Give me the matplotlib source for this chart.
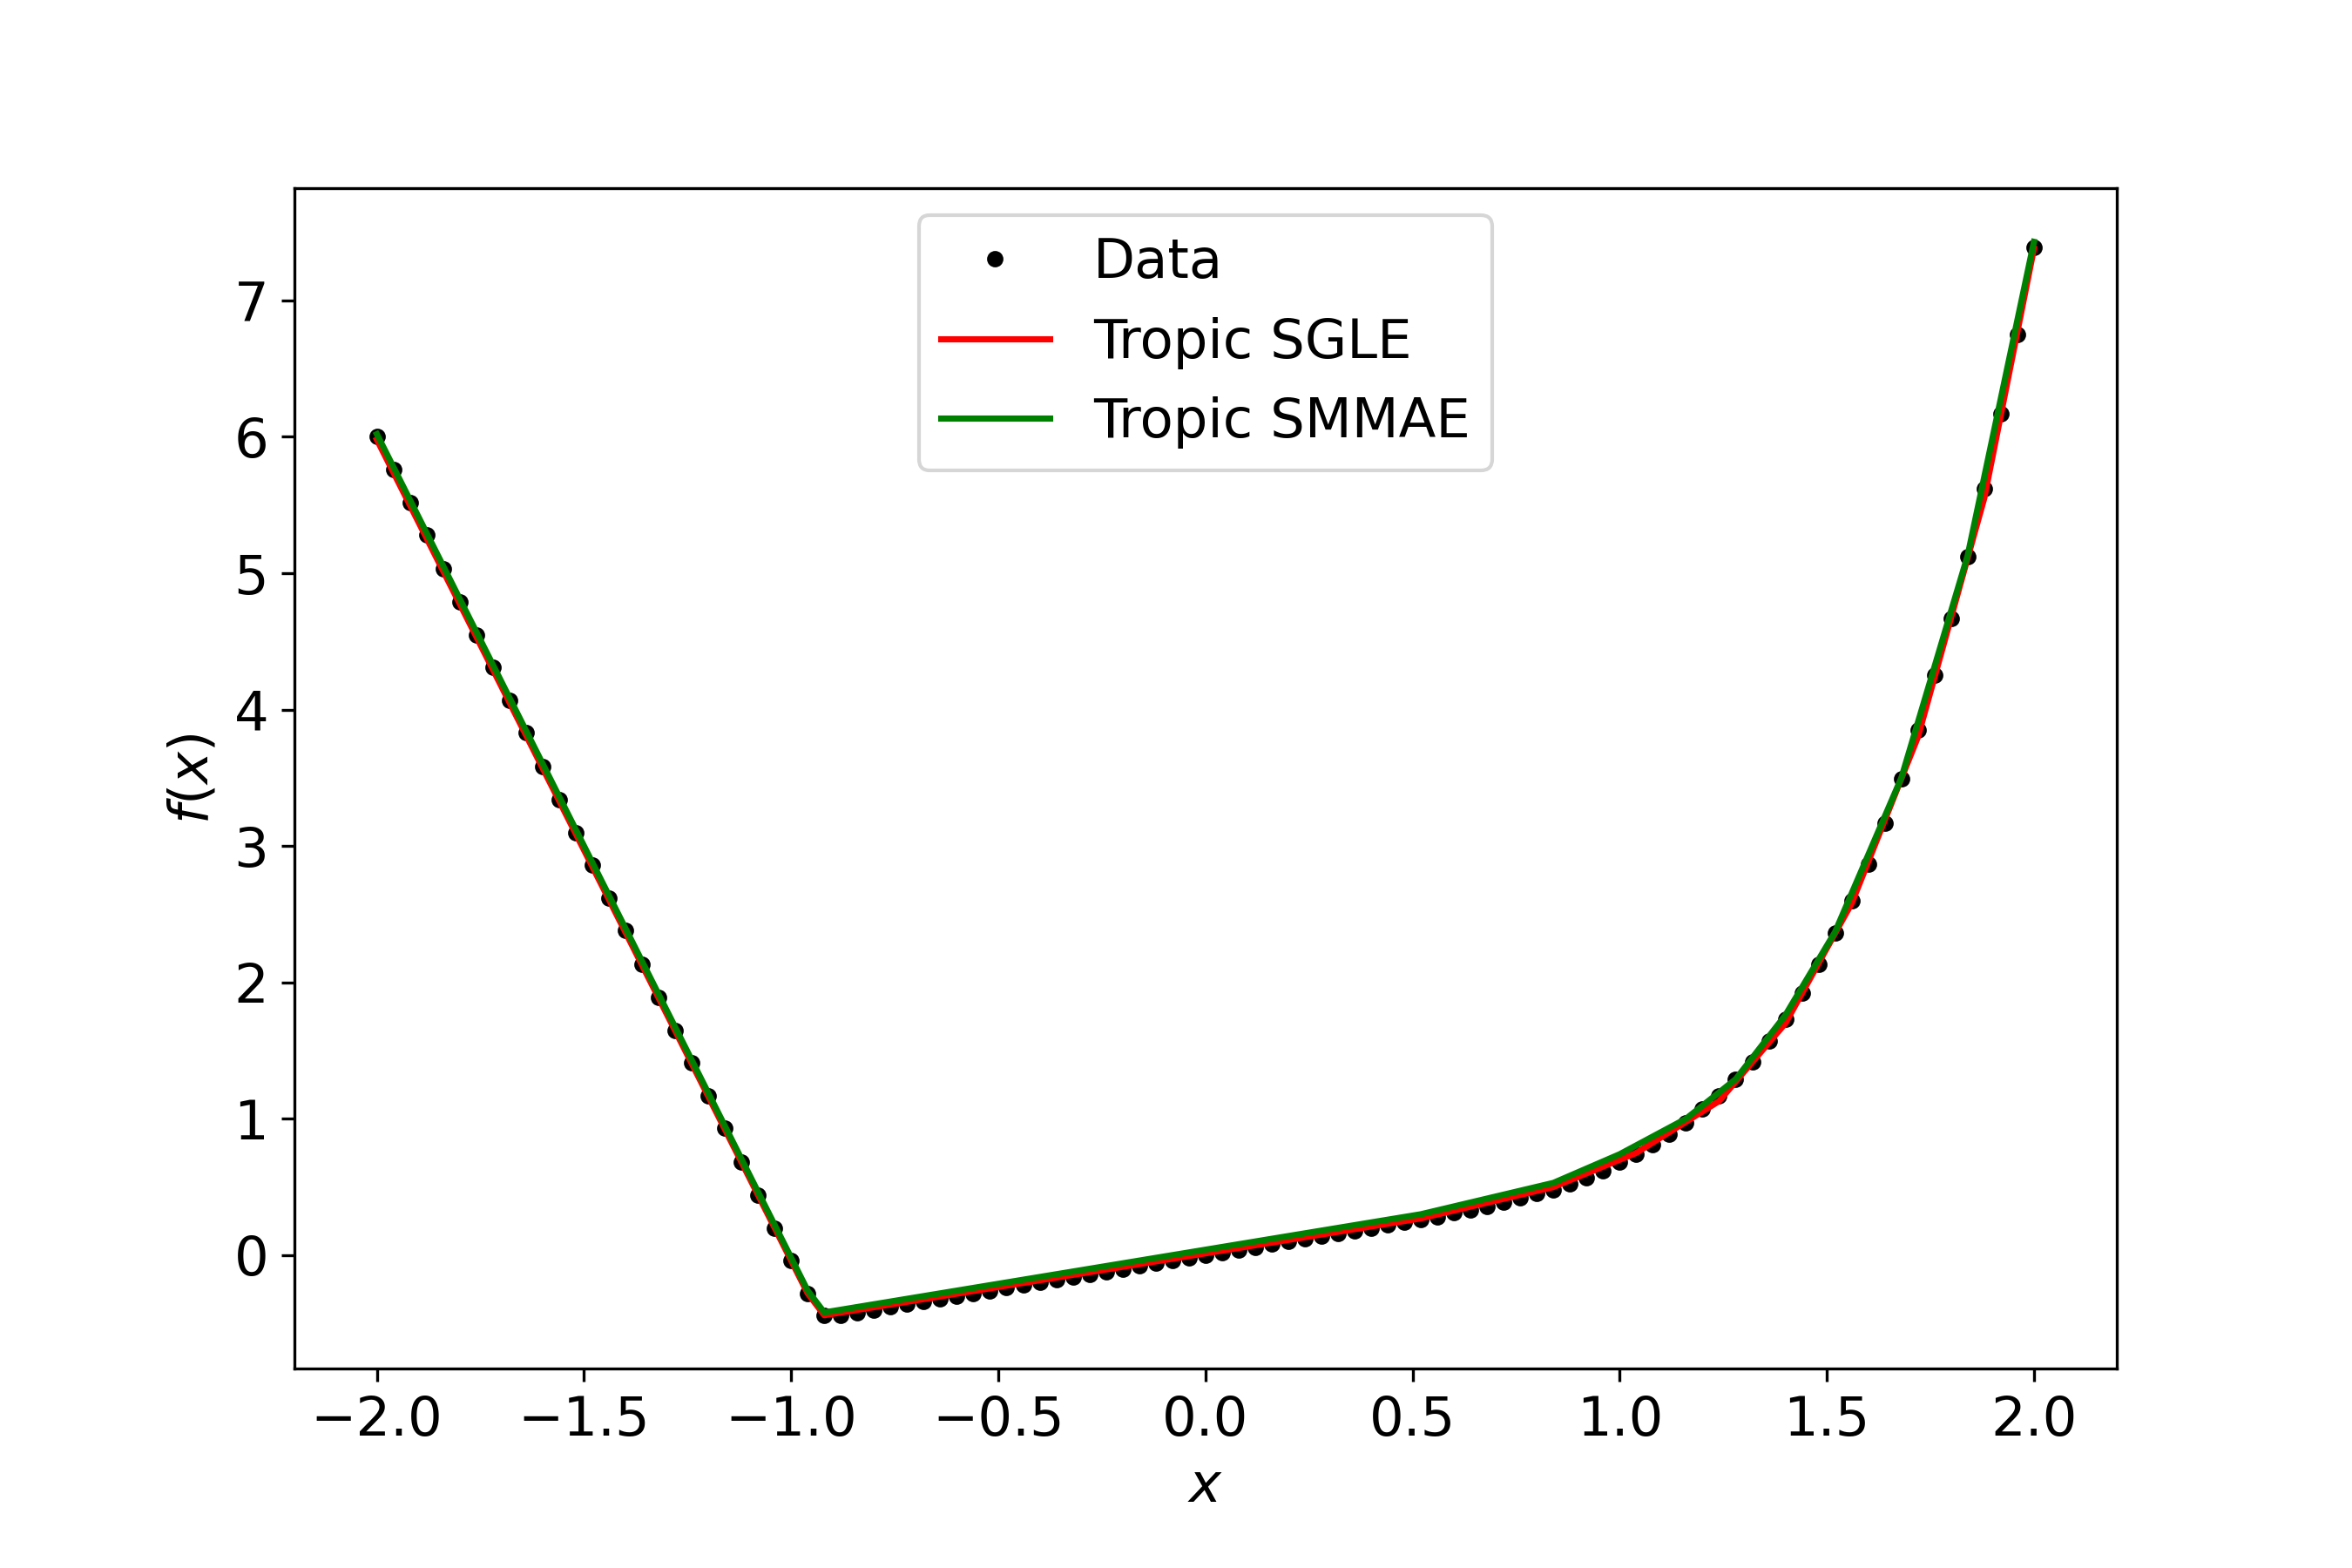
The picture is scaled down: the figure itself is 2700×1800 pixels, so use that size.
import matplotlib
matplotlib.use("Agg")
import matplotlib.pyplot as plt
import numpy as np

plt.rcParams['font.size'] = 15

# Data points (x from -2 to 2, step 0.04)
x_data = [round(-2.0 + 0.04 * i, 2) for i in range(101)]
y_data = [
    6.00, 5.76, 5.52, 5.28, 5.03, 4.79, 4.55, 4.31, 4.07, 3.83,
    3.58, 3.34, 3.10, 2.86, 2.62, 2.38, 2.13, 1.89, 1.65, 1.41,
    1.17, 0.93, 0.68, 0.44, 0.20, -0.04, -0.28, -0.44,
    -0.44, -0.42, -0.40, -0.38, -0.36, -0.34, -0.32, -0.30, -0.28, -0.26,
    -0.24, -0.22, -0.20, -0.18, -0.16, -0.14, -0.12, -0.10, -0.08, -0.06,
    -0.04, -0.02, 0.00, 0.02, 0.04, 0.06, 0.08, 0.10, 0.12, 0.14,
    0.16, 0.18, 0.20, 0.22, 0.24, 0.26, 0.28, 0.31, 0.33, 0.36,
    0.39, 0.42, 0.45, 0.48, 0.52, 0.57, 0.62, 0.68, 0.74, 0.81,
    0.89, 0.97, 1.07, 1.17, 1.29, 1.42, 1.57, 1.73, 1.92, 2.13,
    2.36, 2.60, 2.87, 3.17, 3.49, 3.85, 4.25, 4.67, 5.12, 5.62,
    6.17, 6.75, 7.39,
]

# Tropic SGLE fit (piecewise linear knots)
sgle_x = [-2.0, -0.96, -0.92, 0.52, 0.84, 1.04, 1.24, 1.40, 1.56, 1.72, 1.88, 2.0]
sgle_y = [5.98, -0.28, -0.44, 0.27, 0.50, 0.75, 1.13, 1.70, 2.58, 3.80, 5.55, 7.38]

# Tropic SMMAE fit (piecewise linear knots)
smmae_x = [-2.0, -0.96, -0.92, 0.52, 0.84, 1.00, 1.16, 1.28, 1.40, 1.52, 1.68, 1.84, 2.0]
smmae_y = [6.02, -0.26, -0.42, 0.30, 0.53, 0.74, 1.00, 1.29, 1.76, 2.37, 3.50, 5.13, 7.43]

fig, ax = plt.subplots(figsize=(9, 6), dpi=300)
fig.subplots_adjust(bottom=0.127)
ax.plot(x_data, y_data, 'k.', markersize=7, label='Data')
ax.plot(sgle_x, sgle_y, color='red', linewidth=1.7, label='Tropic SGLE')
ax.plot(smmae_x, smmae_y, color='green', linewidth=1.7, label='Tropic SMMAE')

ax.set_xlabel('$x$')
ax.set_ylabel('$f(x)$')
ax.legend(loc='upper center')

fig.savefig('out.png', dpi=300)
